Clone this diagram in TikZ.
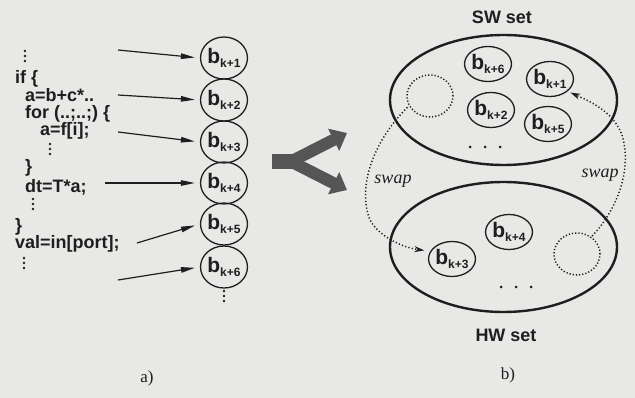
\documentclass[tikz,border=0pt]{standalone}
\usepackage{fontspec}
\setmainfont{Liberation Serif}
\setsansfont{Liberation Sans}
\usetikzlibrary{arrows.meta,shapes.geometric}

\definecolor{paper}{RGB}{232,232,230}
\definecolor{ink}{RGB}{30,30,30}
\definecolor{forkgray}{RGB}{85,85,85}

% block label: large b with a subscript index
\newcommand\blab[1]{{\fontsize{21}{21}\selectfont b}\raisebox{-4pt}{\fontsize{12}{12}\selectfont #1}}

\tikzset{
  code/.style={anchor=base west, inner sep=0pt, text=ink,
    font=\sffamily\bfseries\fontsize{18}{18}\selectfont},
  blk/.style={ellipse, draw=ink, line width=1.3pt, inner sep=0pt,
    minimum width=44pt, minimum height=42pt, text=ink, font=\sffamily\bfseries},
  setblk/.style={blk, minimum width=46pt, minimum height=35pt},
  hole/.style={ellipse, draw=ink, line width=1.5pt, dash pattern=on 1.2pt off 2pt,
    minimum width=46pt, minimum height=42pt, inner sep=0pt},
  setline/.style={draw=ink, line width=2.4pt},
  feed/.style={draw=ink, line width=1.2pt, shorten >=5pt,
    -{Triangle[length=14pt,width=5.5pt]}},
  swapline/.style={draw=ink, line width=1.5pt, dash pattern=on 1.2pt off 2.2pt,
    -{Stealth[length=10pt,width=6pt]}},
  swaplabel/.style={text=ink, font=\itshape\fontsize{18}{18}\selectfont},
  setlabel/.style={text=ink, font=\sffamily\bfseries\fontsize{18}{18}\selectfont},
  caption/.style={text=ink, font=\fontsize{17}{17}\selectfont},
  vdots/.pic={\foreach \k in {0,5,10} \fill[ink] (0,\k) circle (1.3pt);},
  hdots/.pic={\foreach \k in {0,15,30} \fill[ink] (\k,0) circle (1.5pt);}
}

\begin{document}
\begin{tikzpicture}[x=1pt,y=-1pt]
  \fill[paper] (0,0) rectangle (635,398);
  \useasboundingbox (0,0) rectangle (635,398);

  % ---- a) code fragment ----
  \pic at (25,51) {vdots};
  \node[code] (l1) at (15,84) {if \{};
  \node[code] (l2) at (25,102) {a=b+c*..};
  \node[code] (l3) at (25,119) {for (..;..;) \{};
  \node[code] (l4) at (40,136) {a=f[i];};
  \pic at (50,144) {vdots};
  \node[code] (l5) at (25,173) {\}};
  \node[code] (l6) at (25,193) {dt=T*a;};
  \pic at (33,199) {vdots};
  \node[code] (l7) at (15,232) {\}};
  \node[code] (l8) at (15,249) {val=in[port];};
  \pic at (24,258) {vdots};

  % blocks in program order
  \node[blk] (b1) at (224,58)  {\blab{k+1}};
  \node[blk] (b2) at (224,100) {\blab{k+2}};
  \node[blk] (b3) at (224,142) {\blab{k+3}};
  \node[blk] (b4) at (224,183) {\blab{k+4}};
  \node[blk] (b5) at (224,224) {\blab{k+5}};
  \node[blk] (b6) at (224,267) {\blab{k+6}};
  \pic at (224,291) {vdots};

  % arrows from code to blocks
  \coordinate (s1) at (118,50);
  \coordinate (s2) at (118,95);
  \coordinate (s3) at (118,132);
  \coordinate (s4) at (105,183);
  \coordinate (s5) at (137,243);
  \coordinate (s6) at (118,280);
  \draw[feed] (s1) -- (b1.west);
  \draw[feed] (s2) -- (b2.west);
  \draw[feed] (s3) -- (b3.west);
  \draw[feed] (s4) -- (b4.west);
  \draw[feed] (s5) -- (b5.west);
  \draw[feed] (s6) -- (b6.west);

  \node[caption] (capa) at (147,378) {a)};

  % ---- fork arrow ----
  \fill[forkgray] (272,154) rectangle (297,169);
  \draw[forkgray, line width=12pt, -{Triangle[length=15pt,width=24pt]}]
    (291,161.5) -- (347,133);
  \draw[forkgray, line width=12pt, -{Triangle[length=15pt,width=24pt]}]
    (291,161.5) -- (347,190);

  % ---- b) SW set ----
  \node[setlabel] (swl) at (502,17) {SW set};
  \node[ellipse, setline, minimum width=227pt, minimum height=130pt] (sw) at (503.5,100) {};
  \node[hole] (h1) at (430,96) {};
  \node[setblk] (c6) at (488,64)  {\blab{k+6}};
  \node[setblk] (c1) at (550,79)  {\blab{k+1}};
  \node[setblk] (c2) at (491,110) {\blab{k+2}};
  \node[setblk] (c5) at (548,124) {\blab{k+5}};
  \pic at (470,147) {hdots};

  % ---- HW set ----
  \node[ellipse, setline, minimum width=227pt, minimum height=130pt] (hw) at (503.5,247) {};
  \node[hole] (h2) at (577,254) {};
  \node[setblk] (c4) at (509,232) {\blab{k+4}};
  \node[setblk] (c3) at (452,259) {\blab{k+3}};
  \pic at (501,287) {hdots};
  \node[setlabel] (hwl) at (506,335) {HW set};

  % swap paths
  \draw[swapline, shorten <=2pt, shorten >=6pt] (h1.205)
     .. controls (370,145) and (358,190) .. (370,220)
     .. controls (380,238) and (405,248) .. (c3.160);
  \draw[swapline, shorten <=1pt, shorten >=3pt] (h2.50)
     .. controls (615,212) and (633,172) .. (622,135)
     .. controls (614,114) and (596,104) .. (c1.-35);
  \node[swaplabel] (sw1) at (393,181) {swap};
  \node[swaplabel] (sw2) at (600,175) {swap};

  \node[caption] (capb) at (508,375) {b)};
\end{tikzpicture}
\end{document}
